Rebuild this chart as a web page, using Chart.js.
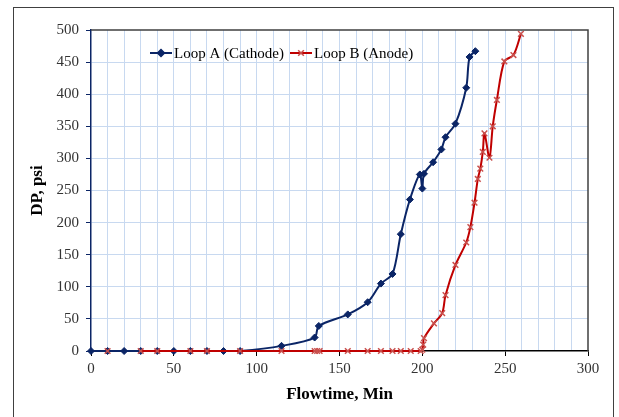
<!DOCTYPE html>
<html><head><meta charset="utf-8">
<script src="https://cdn.jsdelivr.net/npm/chart.js@4/dist/chart.umd.min.js"></script>
<style>html,body{margin:0;padding:0;background:#fff}#wrap{width:619px;height:417px}</style>
</head><body><div id="wrap"><canvas id="c" width="619" height="417"></canvas></div>
<script>
const loopALabel = 'Loop A (Cathode)';
const loopBLabel = 'Loop B (Anode)';
const loopATime = [0,10,20,30,40,50,60,70,80,90,115,135,137.5,155,167,175,182,187,192.5,198.5,200,201,206.5,211.5,214,220,226.5,228.5,232];
const loopADP   = [0,0,0,0,0,0,0,0,0,0,8,21,39,57,76,105,120,182,236,275,253,276,294,314,333,354,410,458,467];
const loopBTime = [10,20,30,40,60,70,90,115,135,136.5,138,155,167,175,182,187,193,199,200,200.5,201,207,212,214,220,226.5,229,231.5,233.5,235,236.5,237.5,240.5,242.5,245,249.5,255,259.5];
const loopBDP   = [0,null,0,0,0,0,0,0,0,0,0,0,0,0,0,0,0,0,2,10,20,43,59,87,134,169,193,231,268,284,310,339,301,350,391,451,461,494];
const xTicks = [0,50,100,150,200,250,300];
const yTicks = [0,50,100,150,200,250,300,350,400,450,500];

const blue = '#0b2566', red = '#c00000', redMk = '#c9504d', grid = '#c8d9f0';
const toPts = (xs, ys) => xs.map((x,i) => ({x, y: ys[i]}));

const framePlugin = {
  id: 'frame',
  beforeDraw(chart) {
    const ctx = chart.ctx;
    ctx.save();
    ctx.fillStyle = '#fff';
    ctx.fillRect(0,0,chart.width,chart.height);
    ctx.strokeStyle = '#404040'; ctx.lineWidth = 1;
    ctx.strokeRect(13.5, 7.5, 600, 420);
    ctx.restore();
  },
  afterDatasetsDraw(chart) {
    const {ctx, chartArea: a} = chart;
    ctx.save();
    ctx.strokeStyle = '#404040'; ctx.lineWidth = 1.5;
    ctx.beginPath();
    ctx.moveTo(a.left, a.top); ctx.lineTo(a.right, a.top); ctx.lineTo(a.right, a.bottom);
    ctx.stroke();
    // legend
    const y = 53;
    const items = [
      {x0: 150, color: blue, mk: 'rectRot', mkColor: blue, r: 3.5, text: loopALabel},
      {x0: 290, color: red, mk: 'crossRot', mkColor: redMk, r: 4, text: loopBLabel}
    ];
    ctx.font = '15px "Liberation Serif", "Times New Roman", serif';
    ctx.textBaseline = 'middle';
    ctx.textAlign = 'left';
    items.forEach(it => {
      ctx.strokeStyle = it.color; ctx.lineWidth = 2;
      ctx.beginPath(); ctx.moveTo(it.x0, y); ctx.lineTo(it.x0 + 22, y); ctx.stroke();
      ctx.strokeStyle = it.mkColor; ctx.fillStyle = it.mkColor; ctx.lineWidth = 1.5;
      Chart.helpers.drawPoint(ctx, {pointStyle: it.mk, radius: it.r, rotation: 0, borderWidth: 1.5}, it.x0 + 11, y);
      ctx.fillStyle = '#000';
      ctx.fillText(it.text, it.x0 + 24, y + 1);
    });
    ctx.restore();
  }
};

new Chart(document.getElementById('c'), {
  type: 'line',
  data: {
    datasets: [
      {
        label: loopALabel,
        data: toPts(loopATime, loopADP),
        borderColor: blue, backgroundColor: blue,
        borderWidth: 2, pointStyle: 'rectRot', pointRadius: 3.5,
        pointBorderColor: blue, pointBackgroundColor: blue, pointBorderWidth: 1,
        tension: 0.3, order: 2, clip: 6
      },
      {
        label: loopBLabel,
        data: toPts(loopBTime, loopBDP),
        borderColor: red, backgroundColor: redMk,
        borderWidth: 2, pointStyle: 'crossRot', pointRadius: 4,
        pointBorderColor: redMk, pointBackgroundColor: redMk, pointBorderWidth: 1.5,
        tension: 0.3, spanGaps: false, order: 1, clip: 6
      }
    ]
  },
  options: {
    responsive: false, animation: false,
    layout: {padding: {left: 20, right: 31, top: 30, bottom: 6}},
    plugins: {legend: {display: false}, tooltip: {enabled: false}},
    scales: {
      x: {
        type: 'linear', min: 0, max: 300,
        afterFit(s) { s.height = 60; },
        ticks: {
          stepSize: 10, autoSkip: false, maxRotation: 0, padding: 4,
          color: '#333', font: {family: '"Liberation Serif", "Times New Roman", serif', size: 15},
          callback: v => (v % 50 === 0 ? String(v) : '')
        },
        grid: {
          color: c => (c.tick && (c.tick.value === 0 || c.tick.value === 300)) ? 'rgba(0,0,0,0)' : grid,
          lineWidth: 1, tickLength: 5,
          tickColor: c => (c.tick && c.tick.value % 50 === 0) ? '#000' : 'rgba(0,0,0,0)'
        },
        border: {color: '#000', width: 1.5},
        title: {
          display: true, text: 'Flowtime, Min', color: '#000',
          font: {family: '"Liberation Serif", "Times New Roman", serif', size: 17, weight: 'bold'},
          padding: {top: 0, bottom: 6}
        }
      },
      y: {
        type: 'linear', min: 0, max: 500,
        afterFit(s) { s.width = 71; },
        afterBuildTicks(s) { s.ticks = yTicks.map(v => ({value: v})); },
        ticks: {
          color: '#333', padding: 7,
          font: {family: '"Liberation Serif", "Times New Roman", serif', size: 15}
        },
        grid: {
          color: c => (c.tick && (c.tick.value === 0 || c.tick.value === 500)) ? 'rgba(0,0,0,0)' : grid,
          lineWidth: 1, tickLength: 5, tickColor: blue
        },
        border: {color: blue, width: 1.5},
        title: {
          display: true, text: 'DP, psi', color: '#000',
          font: {family: '"Liberation Serif", "Times New Roman", serif', size: 17, weight: 'bold'},
          padding: {top: 7, bottom: 0}
        }
      }
    }
  },
  plugins: [framePlugin]
});
</script>
</body></html>
